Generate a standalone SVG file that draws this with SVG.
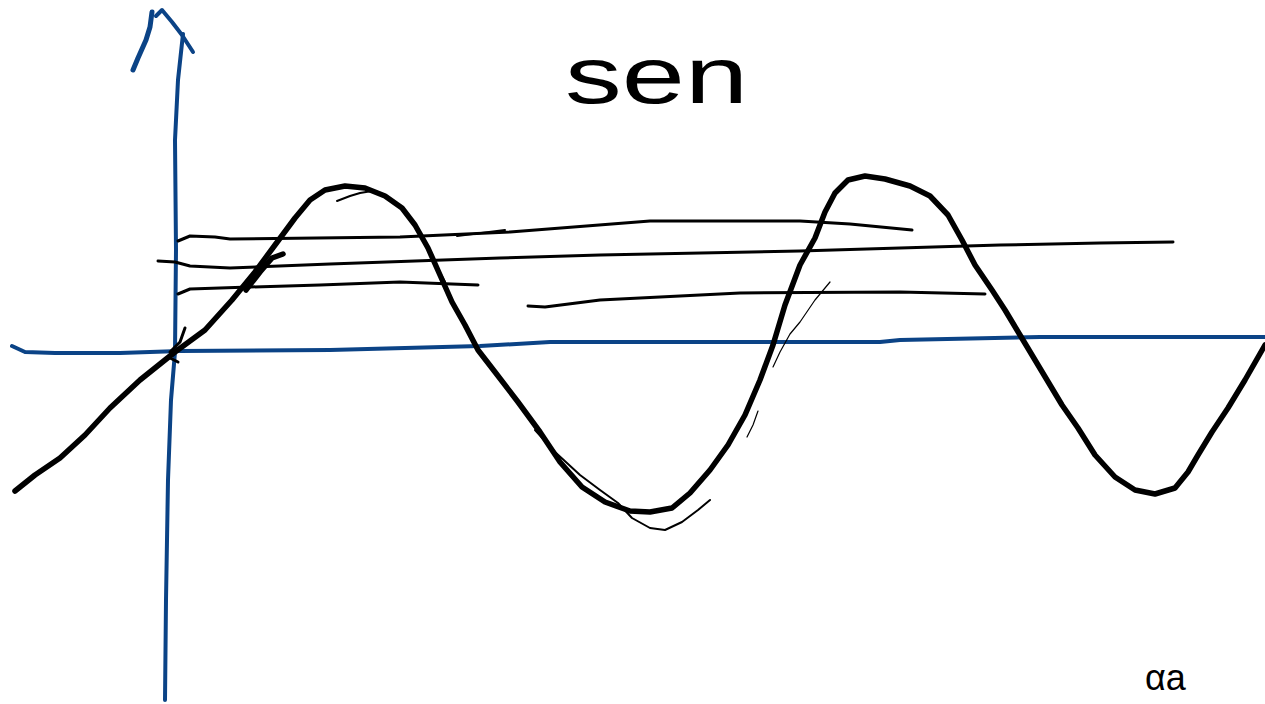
<svg xmlns="http://www.w3.org/2000/svg" width="1265" height="704" viewBox="0 0 1265 704">
<style>
.ax{fill:none;stroke:#0b4386;stroke-width:4;stroke-linecap:round;stroke-linejoin:round}
.ink{fill:none;stroke:#000;stroke-linecap:round;stroke-linejoin:round}
.w5{stroke-width:5.5}
.w3{stroke-width:3}
.w2{stroke-width:2}
.w1{stroke-width:1.2}
.hand{font-family:"Liberation Sans","DejaVu Sans",sans-serif;fill:#000}
</style>
<rect width="1265" height="704" fill="#fff"/>
<g id="axes">
<path class="ax" d="M165,700 L166,600 L168,480 L171,400 L175,352 L176,250 L175,140 L178,80 L183,34"/>
<path class="ax" style="stroke-width:5" d="M133,70 L138,58 L146,40 L150,27 L152,12"/>
<path class="ax" d="M156,16 L162,10 L172,22 L182,35 L193,52"/>
<path class="ax" d="M12,346 L25,352 L55,353 L120,353 L180,351 L330,350 L480,346 L550,342 L720,342 L880,342 L900,340 L1040,337 L1265,337"/>
</g>
<g id="levels">
<path class="ink w3" d="M178,241 L190,236 L215,237 L230,239 L400,237 L510,232 L650,221 L800,221 L850,224 L912,230"/>
<path class="ink w2" d="M457,236 L505,230"/>
<path class="ink w3" d="M158,261 L175,262 L190,266 L230,268 L330,264 L500,258 L600,255 L800,251 L1000,245 L1100,243 L1173,242"/>
<path class="ink w3" d="M178,294 L190,289 L250,287 L320,285 L400,282 L478,285"/>
<path class="ink w3" d="M528,306 L545,307 L600,300 L740,293 L900,292 L985,294"/>
</g>
<g id="wave">
<path class="ink w5" d="M15,491 L35,475 L60,458 L85,435 L110,408 L140,380 L175,352 L205,330 L232,300 L255,272 L275,245 L295,218 L310,200 L325,190 L345,186 L365,188 L385,196 L402,208 L415,225 L428,248 L440,275 L452,302 L465,325 L478,350 L495,372 L518,402 L540,432 L560,462 L582,487 L605,502 L630,511 L650,512 L672,508 L690,493 L710,470 L728,445 L745,415 L760,380 L773,345 L785,305 L800,265 L815,238 L825,212 L835,193 L848,180 L865,176 L885,179 L910,186 L930,196 L948,215 L962,240 L975,265 L992,290 L1005,310 L1020,335 L1035,360 L1050,385 L1062,405 L1078,428 L1095,455 L1115,477 L1135,490 L1155,494 L1175,488 L1188,472 L1198,455 L1212,432 L1228,408 L1245,380 L1265,345"/>
<path class="ink w2" d="M535,430 L555,452 L580,475 L600,490 L618,503 L632,518 L650,528 L665,530 L682,522 L698,510 L710,500"/>
<path class="ink w2" d="M337,201 L350,196 L360,193 L372,191"/>
<path class="ink w2" d="M405,212 L420,232 L432,258 L445,282"/>
<path class="ink w5" d="M246,290 L260,272 L272,258 L283,254"/>
<path class="ink w3" d="M185,328 L180,342 L170,352 M168,357 L178,362"/>
<path class="ink w1" d="M830,282 L815,300 L800,322 L790,334 L780,352 L773,367"/>
<path class="ink w1" d="M758,411 L753,425 L747,437"/>
</g>
<g id="labels">
<text class="hand" x="565" y="103" font-size="80" textLength="183" lengthAdjust="spacingAndGlyphs">sen</text>
<text class="hand" x="1145" y="690" font-size="36">αa</text>
</g>
</svg>
